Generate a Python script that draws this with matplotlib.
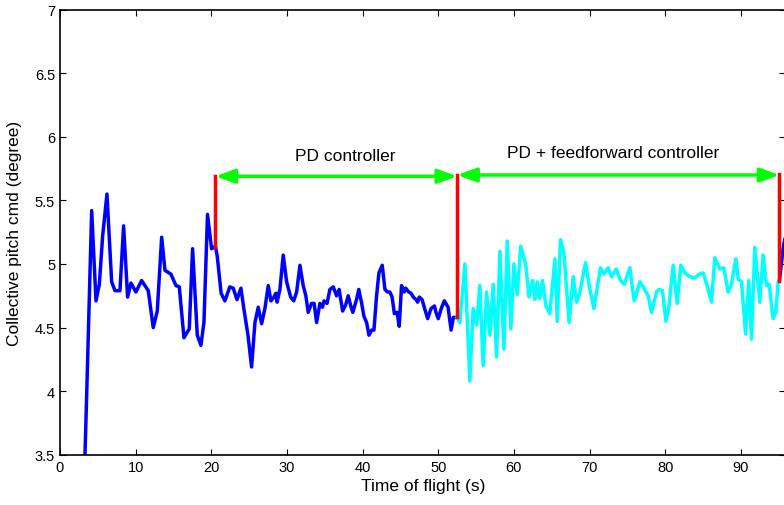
import matplotlib
matplotlib.use('Agg')
import matplotlib.pyplot as plt
from matplotlib.ticker import FormatStrFormatter

plt.rcParams['font.family'] = ['Liberation Sans', 'DejaVu Sans']

# === Data ===
# PD controller segment (blue)
t_pd = [3.2, 3.52, 4.19, 4.76, 5.2, 5.64, 6.21, 6.83, 7.27, 7.93, 8.41, 8.94, 9.38, 10.04,
        10.79, 11.67, 12.33, 12.86, 13.44, 13.88, 14.67, 15.33, 15.77, 16.39, 17.09, 17.53,
        18.15, 18.63, 19.03, 19.5, 20.04, 20.55, 20.79, 21.3, 21.8, 22.45, 22.9, 23.4, 23.92,
        24.3, 24.85, 25.33, 25.77, 26.21, 26.65, 27.09, 27.53, 27.88, 28.28, 28.54, 28.7,
        29.07, 29.51, 29.96, 30.49, 30.9, 31.28, 31.72, 32.15, 32.5, 32.81, 33.25, 33.6,
        33.92, 34.36, 34.7, 34.9, 35.3, 35.68, 36.12, 36.56, 36.9, 37.36, 37.77, 38.1, 38.48,
        38.7, 39.2, 39.5, 39.88, 40.17, 40.53, 40.84, 41.2, 41.5, 41.85, 42.16, 42.6, 42.95,
        43.3, 43.6, 43.9, 44.2, 44.55, 44.84, 45.15, 45.5, 45.7, 46.1, 46.4, 46.7, 47.06,
        47.28, 47.5, 47.86, 48.2, 48.6, 49.05, 49.5, 49.7, 50.0, 50.4, 50.8, 51.3, 51.7,
        52.0, 52.45]
y_pd = [3.28, 3.95, 5.42, 4.71, 4.84, 5.22, 5.55, 4.86, 4.79, 4.79, 5.30, 4.74, 4.85, 4.78,
        4.87, 4.79, 4.50, 4.63, 5.21, 4.95, 4.92, 4.83, 4.82, 4.42, 4.49, 5.12,
        4.44, 4.36, 4.54, 5.39, 5.12, 5.14, 5.06, 4.77, 4.71, 4.82, 4.81, 4.72, 4.81,
        4.65, 4.44, 4.19, 4.54, 4.66, 4.53, 4.65, 4.83, 4.71, 4.74, 4.77, 4.70,
        4.80, 5.07, 4.86, 4.74, 4.71, 4.78, 4.99, 4.83, 4.75, 4.62, 4.69, 4.69,
        4.54, 4.69, 4.66, 4.71, 4.69, 4.80, 4.82, 4.75, 4.80, 4.63, 4.68, 4.75, 4.66,
        4.62, 4.72, 4.80, 4.69, 4.59, 4.54, 4.44, 4.48, 4.48, 4.75, 4.93, 4.99, 4.80,
        4.78, 4.78, 4.74, 4.61, 4.62, 4.51, 4.83, 4.78, 4.81, 4.78, 4.77, 4.74, 4.72,
        4.70, 4.74, 4.72, 4.65, 4.57, 4.65, 4.67, 4.62, 4.57, 4.65, 4.71, 4.66, 4.48,
        4.58, 4.58]

# PD + feedforward segment (cyan)
t_ff = [52.45, 52.86, 53.52, 54.18, 54.62, 55.07, 55.5, 55.94, 56.39, 56.83, 57.27, 57.71,
        58.15, 58.68, 59.12, 59.6, 60.0, 60.44, 60.89, 61.58, 62.0, 62.47, 62.77, 63.08,
        63.43, 63.79, 64.23, 64.75, 65.42, 65.72, 66.16, 66.6, 67.3, 67.84, 68.28, 68.7,
        69.47, 69.95, 70.57, 71.45, 71.89, 72.46, 72.9, 73.56, 74.0, 74.58, 75.33, 75.9,
        76.65, 77.3, 77.75, 78.19, 78.85, 79.2, 79.64, 80.09, 80.5, 81.05, 81.58, 82.07,
        82.6, 83.26, 83.92, 84.49, 85.02, 85.54, 86.12, 86.56, 87.22, 87.75, 88.32, 88.76,
        89.34, 89.65, 90.09, 90.62, 91.05, 91.4, 91.85, 92.5, 92.94, 93.39, 93.74, 94.26,
        94.62, 94.93]
y_ff = [4.58, 4.54, 5.00, 4.08, 4.65, 4.52, 4.83, 4.20, 4.78, 4.44, 4.84, 4.27,
        5.10, 4.33, 5.18, 4.49, 5.00, 4.76, 5.14, 4.99, 4.74, 4.87, 4.72, 4.86,
        4.73, 4.87, 4.67, 4.61, 5.04, 4.55, 5.19, 5.09, 4.54, 4.90, 4.70, 4.77,
        5.01, 4.83, 4.65, 4.97, 4.92, 4.97, 4.90, 4.96, 4.88, 4.84, 4.97, 4.71,
        4.86, 4.80, 4.75, 4.62, 4.78, 4.80, 4.79, 4.55, 4.67, 4.99, 4.69, 4.99,
        4.93, 4.90, 4.89, 4.92, 4.93, 4.83, 4.70, 5.05, 4.96, 4.97, 4.78, 4.84,
        5.04, 4.88, 4.86, 4.45, 4.87, 4.41, 5.13, 4.70, 5.07, 4.83, 4.84, 4.57,
        4.62, 4.86]

# back to PD at the end (blue)
t_end = [95.1, 95.6, 96.0]
y_end = [4.87, 5.13, 5.25]

# switch markers (red) and arrows (green)
t_switch = [20.55, 52.5, 95.1]
y_switch_low = [5.13, 4.58, 4.87]
y_switch_high = [5.69, 5.70, 5.71]
labels = ['PD controller', 'PD + feedforward controller']
label_pos = [(37.7, 5.85), (73.1, 5.88)]

# === Plot ===
fig = plt.figure(figsize=(7.84, 5.06), dpi=100)
ax = fig.add_axes([0.0765, 0.0994, 0.9254, 0.8794])

line_kw = dict(lw=2.5, solid_joinstyle='round', solid_capstyle='round')
ax.plot(t_pd, y_pd, color='blue', **line_kw)
ax.plot(t_ff, y_ff, color='cyan', **line_kw)
ax.plot(t_end, y_end, color='blue', **line_kw)

for t, lo, hi in zip(t_switch, y_switch_low, y_switch_high):
    ax.plot([t, t], [lo, hi], color='red', lw=2.5)

for i in range(2):
    ax.annotate('', xy=(t_switch[i], y_switch_high[i]), xytext=(t_switch[i + 1], y_switch_high[i]),
                arrowprops=dict(arrowstyle='<|-|>,head_length=1.15,head_width=0.42',
                                color=(0, 1, 0), lw=2.5, shrinkA=0, shrinkB=0))
    ax.text(label_pos[i][0], label_pos[i][1], labels[i], ha='center', va='center', fontsize=12.5)

ax.set_xlim(0, 95.9)
ax.set_ylim(3.5, 7)
ax.set_xticks(range(0, 100, 10))
ax.set_yticks([3.5, 4, 4.5, 5, 5.5, 6, 6.5, 7])
ax.yaxis.set_major_formatter(FormatStrFormatter('%g'))
ax.tick_params(direction='in', top=True, right=True, length=4.3, width=0.8,
               labelsize=10.5, pad=3.5)
for s in ax.spines.values():
    s.set_linewidth(1.2)

ax.set_xlabel('Time of flight (s)', fontsize=12.5, labelpad=3)
ax.set_ylabel('Collective pitch cmd (degree)', fontsize=12.5, labelpad=9)

plt.savefig('out.png', dpi=100)
